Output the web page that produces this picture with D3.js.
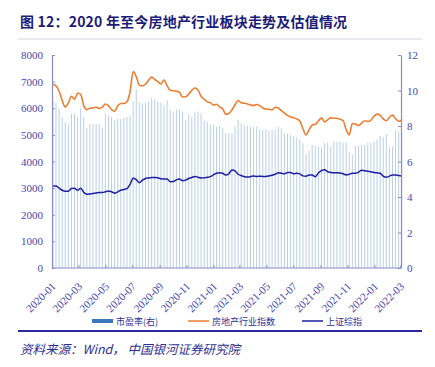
<!DOCTYPE html>
<html><head><meta charset="utf-8">
<script src="https://cdn.jsdelivr.net/npm/d3@7/dist/d3.min.js"></script>
<style>body{margin:0;background:#fff}svg{display:block}</style>
</head><body><svg id="c" width="435" height="367"></svg>
<script>
const startDate = "2020-01-03";
const indexValues = [6890,6840,6650,6300,6050,6200,6450,6340,6570,6520,
 6100,5950,6000,6010,6040,6000,6040,6160,6100,5950,
 5890,6090,6180,6180,6246,6620,7380,7190,6870,6840,
 6900,7055,7170,7080,7000,6915,7060,6850,6670,6660,
 6640,6600,6420,6430,6530,6670,6760,6680,6450,6340,
 6240,6210,6122,6150,6055,5980,5770,5800,5940,6130,
 6290,6205,6185,6160,6125,6100,6140,6100,6010,5970,
 5961,5940,6040,6010,5910,5820,5730,5670,5645,5600,
 5520,5230,5000,5200,5370,5397,5520,5640,5490,5565,
 5640,5623,5623,5590,5540,5200,5000,5430,5405,5350,
 5440,5533,5500,5550,5700,5780,5740,5600,5530,5660,
 5740,5610,5510,5560];
const shValues = [3080,3080,3000,2920,2880,2880,2990,3000,2920,3000,
 2840,2770,2780,2795,2815,2840,2833,2860,2890,2866,
 2810,2860,2920,2950,2980,3140,3370,3320,3200,3300,
 3360,3380,3395,3400,3390,3350,3345,3340,3241,3245,
 3310,3340,3280,3300,3360,3400,3440,3410,3380,3385,
 3406,3430,3500,3560,3580,3557,3490,3540,3680,3650,
 3520,3470,3430,3415,3430,3460,3435,3450,3440,3440,
 3456,3480,3520,3580,3560,3540,3590,3590,3540,3555,
 3535,3460,3450,3493,3490,3430,3570,3660,3690,3615,
 3590,3580,3580,3570,3540,3495,3520,3557,3557,3600,
 3675,3650,3630,3618,3590,3575,3558,3450,3410,3450,
 3493,3493,3470,3456];
const peValues = [9.4,9.3,9.0,8.5,8.2,8.1,8.7,8.7,8.5,9.0,
 8.5,7.9,8.1,8.1,8.1,8.1,7.9,8.7,8.6,8.5,
 8.3,8.4,8.4,8.45,8.5,8.6,9.4,10.07,9.35,9.28,
 9.3,9.37,9.6,9.5,9.37,9.31,9.18,9.46,8.9,8.81,
 8.94,8.94,8.81,8.34,8.66,8.52,8.75,8.81,8.71,8.3,
 8.24,8.06,8.08,7.96,8.0,7.87,7.62,7.59,7.59,8.0,
 8.34,8.15,8.06,8.02,7.96,7.93,7.96,7.81,7.78,7.81,
 7.74,7.78,7.81,7.96,7.87,7.59,7.56,7.49,7.4,7.37,
 7.25,7.03,6.42,6.61,6.93,6.87,6.83,6.8,7.03,7.06,
 6.83,7.12,7.12,7.12,7.08,7.08,6.55,6.37,6.87,6.87,
 6.93,6.93,7.06,7.06,7.12,7.21,7.44,7.37,7.55,6.8,
 6.83,7.77,7.68,7.62];
const leftTicks = [0,1000,2000,3000,4000,5000,6000,7000,8000];
const rightTicks = [0,2,4,6,8,10,12];
const xTickLabels = ["2020-01","2020-03","2020-05","2020-07","2020-09","2020-11","2021-01","2021-03","2021-05","2021-07","2021-09","2021-11","2022-01","2022-03"];
const seriesNames = ["市盈率(右)","房地产行业指数","上证综指"];
const titleText = "图 12：2020 年至今房地产行业板块走势及估值情况";
const sourceText = "资料来源：Wind， 中国银河证券研究院";

const parseD = d3.timeParse("%Y-%m-%d");
const parseM = d3.timeParse("%Y-%m");
const dates = indexValues.map((_, i) => d3.timeDay.offset(parseD(startDate), 7 * i));
const L = 52, R = 401, T = 55, B = 268;
const axisCol = "#8a8ac8", labelCol = "#4646ac";
const serif = "'Liberation Serif','DejaVu Serif',serif";
const cjk = "'Noto Sans CJK SC',sans-serif";

const svg = d3.select("#c");
svg.append("rect").attr("width", 435).attr("height", 367).attr("fill", "#fff");

const x = d3.scaleTime().domain([parseM("2020-01"), parseM("2022-03")]).range([L, 400.4]);
const yL = d3.scaleLinear().domain([0, 8000]).range([B, T]);
const yR = d3.scaleLinear().domain([0, 12]).range([B, T]);

// title
svg.append("text").attr("x", 20).attr("y", 27).text(titleText)
  .attr("font-family", cjk).attr("font-weight", "bold").attr("font-size", 14)
  .attr("letter-spacing", 0.2).attr("fill", "#1c1c78");
svg.append("line").attr("x1", 18).attr("x2", 422).attr("y1", 39).attr("y2", 39)
  .attr("stroke", "#d2d2de").attr("stroke-width", 1.2);

// bars
svg.append("g").selectAll("rect").data(peValues).join("rect")
  .attr("x", (d, i) => x(dates[i]) - 0.5).attr("width", 1)
  .attr("y", d => yR(d)).attr("height", d => B - yR(d))
  .attr("fill", "#b8cfe8");

// lines
const lineIdx = d3.line().x((d, i) => x(dates[i])).y(d => yL(d)).curve(d3.curveMonotoneX);
svg.append("path").datum(indexValues).attr("d", lineIdx).attr("fill", "none")
  .attr("stroke", "#ed7d31").attr("stroke-width", 1.6);
svg.append("path").datum(shValues).attr("d", lineIdx).attr("fill", "none")
  .attr("stroke", "#1e1ea0").attr("stroke-width", 1.5);

// axes
function styleAxis(g) {
  g.select(".domain").attr("stroke", axisCol).attr("stroke-width", 1.2);
  g.selectAll(".tick line").attr("stroke", axisCol);
  g.selectAll(".tick text").attr("fill", labelCol).attr("font-family", serif).attr("font-size", 11);
}
const gl = svg.append("g").attr("transform", `translate(${L},0)`)
  .call(d3.axisLeft(yL).tickValues(leftTicks).tickSize(-3).tickSizeOuter(0).tickPadding(9).tickFormat(d3.format("d")));
styleAxis(gl);
const gr = svg.append("g").attr("transform", `translate(${R},0)`)
  .call(d3.axisRight(yR).tickValues(rightTicks).tickSize(-3).tickSizeOuter(0).tickPadding(6).tickFormat(d3.format("d")));
styleAxis(gr);
const gx = svg.append("g").attr("transform", `translate(0,${B})`)
  .call(d3.axisBottom(x).tickValues(xTickLabels.map(parseM)).tickSize(-3).tickSizeOuter(0).tickFormat(d3.timeFormat("%Y-%m")));
gx.select(".domain").attr("d", `M${L},0H${R}`);
styleAxis(gx);
gx.selectAll(".tick text").attr("text-anchor", "end").attr("dy", null).attr("y", null)
  .attr("transform", "translate(4,19) rotate(-45)");

// legend
const lg = svg.append("g");
lg.append("rect").attr("x", 92).attr("y", 319).attr("width", 21).attr("height", 4).attr("fill", "#3a78bb");
lg.append("line").attr("x1", 188).attr("x2", 209).attr("y1", 321).attr("y2", 321).attr("stroke", "#ed7d31").attr("stroke-width", 1.5);
lg.append("line").attr("x1", 302).attr("x2", 323).attr("y1", 321).attr("y2", 321).attr("stroke", "#1e1ea0").attr("stroke-width", 1.5);
[[116, 0], [212, 1], [326, 2]].forEach(([px, k]) => {
  lg.append("text").attr("x", px).attr("y", 324.5).text(seriesNames[k])
    .attr("font-family", cjk).attr("font-size", 9).attr("fill", "#2e2e96");
});

// bottom rule and source
svg.append("line").attr("x1", 18).attr("x2", 422).attr("y1", 331).attr("y2", 331)
  .attr("stroke", "#2a2a9a").attr("stroke-width", 2);
svg.append("text").attr("x", 20).attr("y", 354).text(sourceText)
  .attr("font-family", cjk).attr("font-style", "italic").attr("font-size", 12.5).attr("fill", "#2e2e8f");
</script></body></html>
